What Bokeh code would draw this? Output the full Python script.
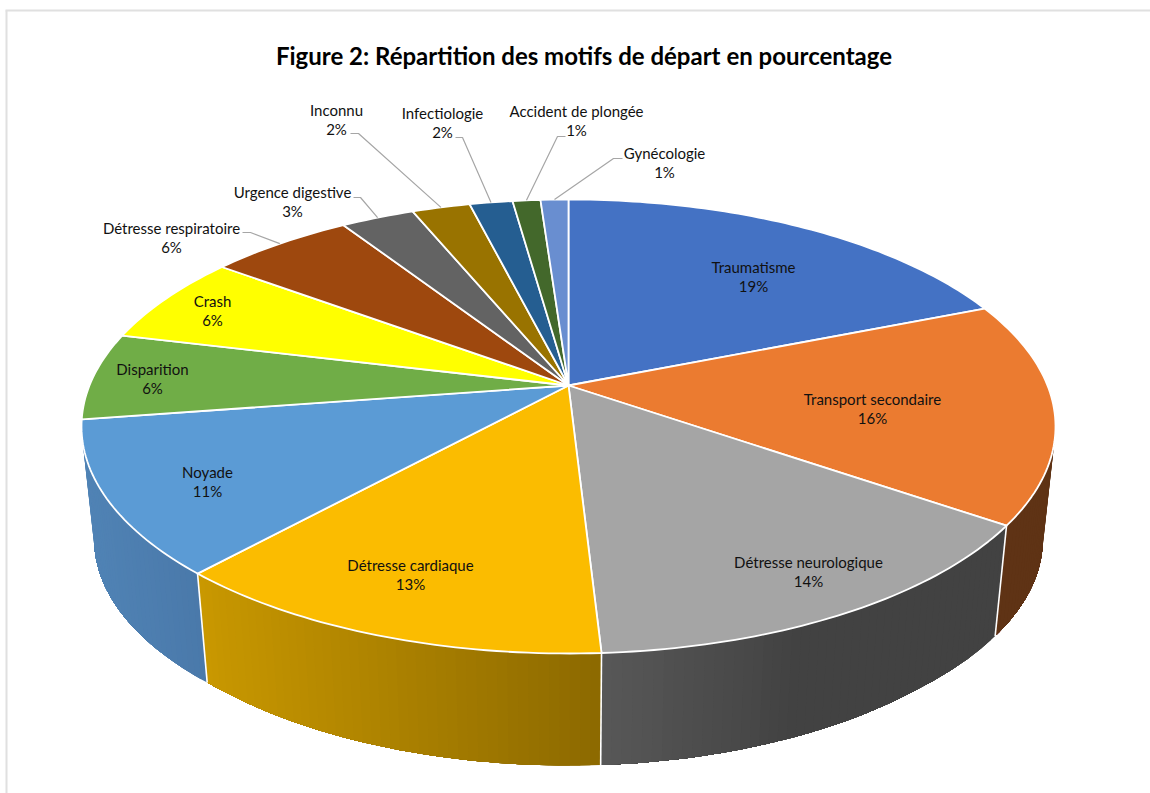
import numpy as np
from bokeh.plotting import figure
from bokeh.models import Range1d
from bokeh.core.properties import value
from bokeh.embed import file_html
from bokeh.resources import INLINE

title = "Figure 2: Répartition des motifs de départ en pourcentage"
categories = ["Traumatisme", "Transport secondaire", "Détresse neurologique", "Détresse cardiaque",
              "Noyade", "Disparition", "Crash", "Détresse respiratoire", "Urgence digestive",
              "Inconnu", "Infectiologie", "Accident de plongée", "Gynécologie"]
values = [18.9, 15.8, 14.4, 12.6, 10.9, 6.2, 6.4, 5.7, 2.9, 2.3, 1.7, 1.1, 1.1]
colors = ["#4472C4", "#EB7B30", "#A5A5A5", "#FBBC00", "#5B9BD5", "#70AD47", "#FFFF00",
          "#9E480E", "#636363", "#997300", "#255E91", "#43682B", "#698ED0"]
# wall shading: colour at the left and right end of each visible wall
wall_left = {1: "#5f3315", 2: "#585858", 3: "#c99800", 4: "#5083b5"}
wall_right = {1: "#5f3315", 2: "#424242", 3: "#8c6900", 4: "#4a79aa"}
wall_flat_from = {2: 800}  # neuro wall stops darkening here

# label centres (x, y of first line)
label_x = [753, 872, 808, 410, 207, 152, 212, 171, 292, 336, 442, 576, 664]
label_y = [266, 398, 561, 564, 471, 368, 300, 227, 191, 109, 112, 110, 152]
# leader lines: category index -> text-side start, elbow
leaders = {7: [(242, 232), (250, 232)], 8: [(353, 197), (360, 197)], 9: [(350, 133), (358, 133)],
           10: [(455, 137), (462, 137)], 11: [(565, 136), (557, 136)], 12: [(622, 158), (613, 158)]}

# projection of the disc
CX, CY, A, B, K = 568.0, 385.0, 479.0, 219.6, 0.1806
VPX, VPY, S = 568.0, 4767.0, 0.974


def top(t):
    t = np.asarray(t, float)
    X, Y = np.sin(t), np.cos(t)
    w = 1 + K * Y
    return CX + A * X / w, CY - B * Y / w


def bottom(t):
    x, y = top(t)
    near = np.clip(1 - ((np.asarray(t, float) - np.pi) / 0.7) ** 2, 0, 1)
    return VPX + S * (x - VPX), VPY + S * (y - VPY) + 5 * near


def rgb(h):
    return np.array([int(h[i:i + 2], 16) for i in (1, 3, 5)], float)


def mix(a, b, f):
    c = rgb(a) * (1 - f) + rgb(b) * f
    return "#%02x%02x%02x" % tuple(int(round(v)) for v in c)


vals = np.array(values)
edges = np.concatenate([[0], np.cumsum(vals)]) / vals.sum() * 2 * np.pi

p = figure(width=1150, height=793, x_range=Range1d(0, 1150), y_range=Range1d(793, 0),
           output_backend="svg", toolbar_location=None, min_border=0,
           background_fill_color="white", border_fill_color="white", outline_line_color=None)
p.axis.visible = False
p.grid.visible = False

# page frame of the screenshot
p.line([6, 6], [793, 10], line_color="#e0e0e0", line_width=2)
p.line([5, 1150], [10, 10], line_color="#e0e0e0", line_width=2)

# walls: strips painted left to right so that each one overlaps the next
for i in sorted(wall_left):
    a = max(edges[i], np.pi / 2 - 0.1)
    b = edges[i + 1]
    ts = np.linspace(a, b, max(3, int((b - a) / np.radians(1.0))))
    xa, _ = top(ts)
    lo, hi = xa.min(), xa.max()
    hi_shade = min(hi, wall_flat_from.get(i, hi))
    qx, qy, qc = [], [], []
    for j in range(len(ts) - 1):
        x0, _ = top(ts[j])
        x1, _ = top(ts[j + 1])
        f = float(np.clip(((x0 + x1) / 2 - lo) / max(hi_shade - lo, 1), 0, 1))
        # the strip runs on to the end of the slice; the next strips paint over it
        tail = ts[j:]
        xt, yt = top(tail)
        ut, vt = bottom(tail)
        qx.append(xt.tolist() + ut[::-1].tolist())
        qy.append(yt.tolist() + vt[::-1].tolist())
        qc.append(mix(wall_left[i], wall_right[i], f))
    p.patches(qx, qy, fill_color=qc, line_color=None)

# white seams between walls
for i in range(1, 4):
    x0, y0 = top(edges[i + 1])
    u0, v0 = bottom(edges[i + 1])
    p.line([float(x0), float(u0)], [float(y0), float(v0)], line_color="white", line_width=1.6)

# top face
tx, ty = [], []
for i in range(len(vals)):
    ts = np.linspace(edges[i], edges[i + 1], max(4, int((edges[i + 1] - edges[i]) / np.radians(1))))
    x, y = top(ts)
    tx.append([CX] + x.tolist())
    ty.append([CY] + y.tolist())
p.patches(tx, ty, fill_color=colors, line_color="white", line_width=1.8, line_join="round")

# leaders
for i, pts in leaders.items():
    ax, ay = top((edges[i] + edges[i + 1]) / 2)
    p.line([pts[0][0], pts[1][0], float(ax)], [pts[0][1], pts[1][1], float(ay)],
           line_color="#a6a6a6", line_width=1.2)

# labels
pct = ["%d%%" % round(v) for v in values]
font = value("Lato")
p.text(label_x, label_y, text=categories, text_font=font, text_font_size="15px",
       text_color="#111111", text_align="center", text_baseline="middle")
p.text(label_x, [y + 19 for y in label_y], text=pct, text_font=font, text_font_size="15px",
       text_color="#111111", text_align="center", text_baseline="middle")
p.text([583.5], [55], text=[title], text_font=font, text_font_size="24px", text_font_style="bold",
       text_color="#000000", text_align="center", text_baseline="middle")

open("out.html", "w").write(file_html(p, INLINE))
